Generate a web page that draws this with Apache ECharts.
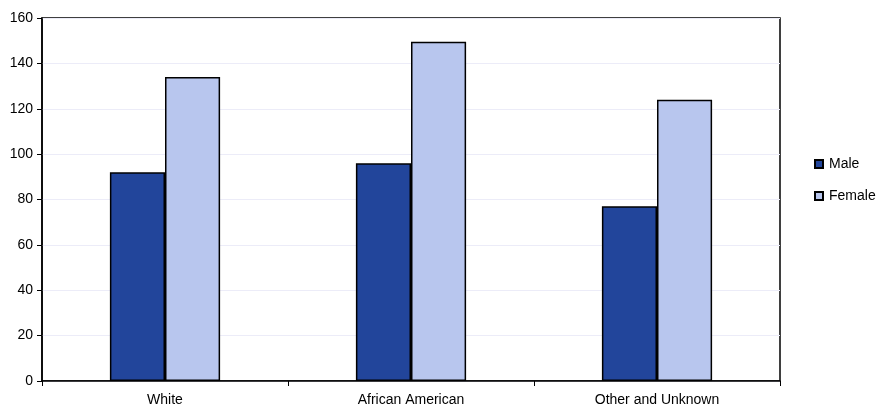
<!DOCTYPE html>
<html><head><meta charset="utf-8">
<script src="https://cdn.jsdelivr.net/npm/echarts@6/dist/echarts.min.js"></script>
<style>html,body{margin:0;padding:0;background:#fff}#c{width:893px;height:409px}</style>
</head><body><div id="c"></div>
<script>
const categories = ["White", "African American", "Other and Unknown"];
const maleValues = [92, 96, 77];
const femaleValues = [134, 149.5, 124];
const seriesNames = ["Male", "Female"];

const chart = echarts.init(document.getElementById('c'), null, {renderer: 'canvas'});
const font = "Liberation Sans, Arial, sans-serif";
chart.setOption({
  animation: false,
  backgroundColor: '#ffffff',
  grid: {left: 42, right: 113, top: 18, bottom: 28, show: true, borderColor: '#000', borderWidth: 1.5, backgroundColor: 'transparent'},
  legend: {
    orient: 'vertical', left: 809, top: 152, itemWidth: 8, itemHeight: 8, itemGap: 18,
    textStyle: {fontFamily: font, fontSize: 14, color: '#000', padding: [0, 0, 0, 1]},
    data: seriesNames.map(n => ({name: n, icon: 'rect'}))
  },
  xAxis: {
    type: 'category', data: categories,
    axisLine: {lineStyle: {color: '#000', width: 1.5}},
    axisTick: {show: true, alignWithLabel: false, length: 5, lineStyle: {color: '#000'}},
    axisLabel: {fontFamily: font, fontSize: 14, color: '#000', margin: 12},
    splitLine: {show: false}
  },
  yAxis: {
    type: 'value', min: 0, max: 160, interval: 20,
    axisLine: {show: true, lineStyle: {color: '#000', width: 1.5}},
    axisTick: {show: true, length: 5, lineStyle: {color: '#000'}},
    axisLabel: {fontFamily: font, fontSize: 14, color: '#000', margin: 9},
    splitLine: {show: true, lineStyle: {color: '#ececf8', width: 1}}
  },
  series: [
    {name: seriesNames[0], type: 'bar', data: maleValues, barWidth: '22.4%', barGap: '0%',
     itemStyle: {color: '#22459b', borderColor: '#000', borderWidth: 1.5}},
    {name: seriesNames[1], type: 'bar', data: femaleValues, barWidth: '22.4%', barGap: '0%',
     itemStyle: {color: '#b8c6ee', borderColor: '#000', borderWidth: 1.5}}
  ]
});
</script></body></html>
